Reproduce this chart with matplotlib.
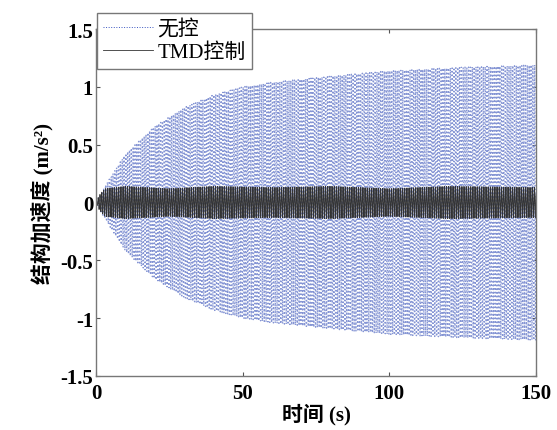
import matplotlib
matplotlib.use("Agg")
import matplotlib.pyplot as plt
import numpy as np

# envelope of the uncontrolled response (s, m/s^2)
unc_env_t = [0, 3, 10, 20, 30, 40, 50, 60, 75, 100, 125, 150]
unc_env_a = [0, 0.14, 0.42, 0.66, 0.82, 0.93, 1.00, 1.04, 1.08, 1.14, 1.17, 1.19]

# envelope of the TMD controlled response
tmd_env_t = [0, 1, 3, 10, 25, 40, 60, 80, 100, 120, 150]
tmd_env_a = [0, 0.06, 0.12, 0.14, 0.12, 0.14, 0.13, 0.14, 0.12, 0.14, 0.13]

freq_hz = 1.6          # excitation frequency
t_end = 150
fs = 60                # samples per second

t = np.linspace(0, t_end, t_end * fs + 1)
acc_unc = np.interp(t, unc_env_t, unc_env_a) * np.sin(2 * np.pi * freq_hz * t)
acc_tmd = np.interp(t, tmd_env_t, tmd_env_a) * np.sin(2 * np.pi * freq_hz * t + 0.6)

FONT = ["Liberation Serif", "Noto Sans CJK SC"]
plt.rcParams["font.family"] = FONT
plt.rcParams["font.weight"] = "bold"

fig = plt.figure(figsize=(5.57, 4.31), dpi=100)
ax = fig.add_axes([0.1724, 0.1253, 0.790, 0.805])

ax.plot(t, acc_unc, ls=":", color="#8595d4", lw=1.0, label="无控")
ax.plot(t, acc_tmd, ls="-", color="#333333", lw=0.6, label="TMD控制")

ax.set_xlim(0, 150)
ax.set_ylim(-1.5, 1.5)
ax.set_xticks([0, 50, 100, 150])
ax.set_yticks([-1.5, -1, -0.5, 0, 0.5, 1, 1.5])
ax.set_yticklabels(["-1.5", "-1", "-0.5", "0", "0.5", "1", "1.5"])
ax.tick_params(direction="in", length=3, width=0.8, top=True, right=True,
               labelsize=15, colors="#555555", labelcolor="black", pad=2)
ax.tick_params(axis="x", pad=5)
for s in ax.spines.values():
    s.set_color("#777777")
    s.set_linewidth(1.0)

ax.set_xlabel("时间 (s)", fontsize=15, fontweight="bold", labelpad=0)
ax.set_ylabel("结构加速度 (m/s²)", fontsize=15, fontweight="bold", labelpad=5)

leg = ax.legend(loc="upper left", bbox_to_anchor=(0.002, 1.045), borderaxespad=0,
                fontsize=15, handlelength=2.4, handletextpad=0.2, labelspacing=0.15,
                borderpad=0.3, fancybox=False, framealpha=1, edgecolor="#777777")
leg.get_frame().set_linewidth(1.0)
leg.get_lines()[0].set_color("#3a55c0")
leg.get_lines()[0].set_linewidth(0.7)
for txt in leg.get_texts():
    txt.set_fontweight("normal")

fig.savefig("out.png", dpi=100)
